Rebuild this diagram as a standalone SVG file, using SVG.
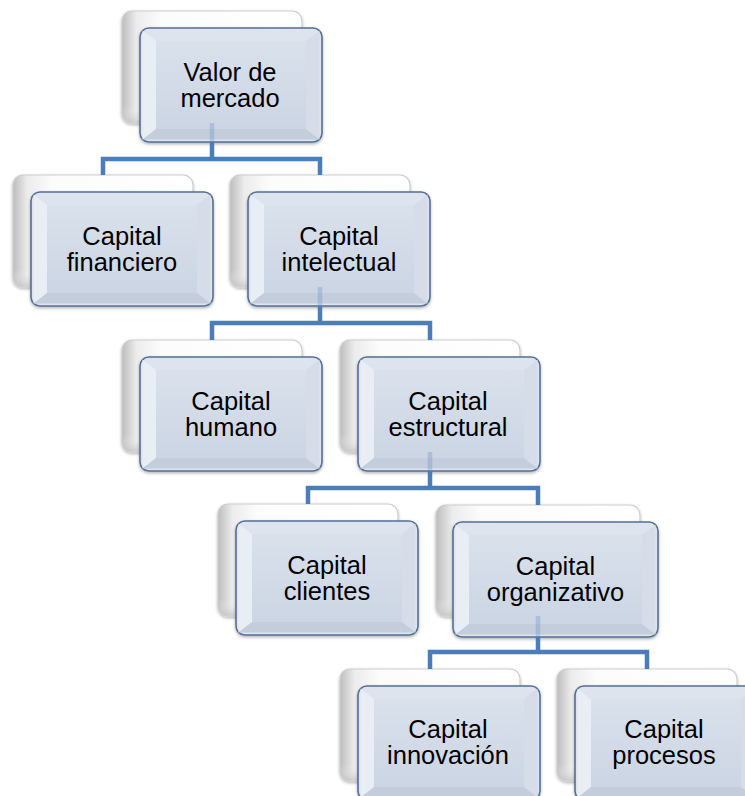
<svg xmlns="http://www.w3.org/2000/svg" xmlns:xlink="http://www.w3.org/1999/xlink" width="745" height="796" viewBox="0 0 745 796">
<style>
.back{fill:url(#gBack);stroke:#cdcdcd;stroke-width:1.2}
.backv{fill:url(#gBackV)}
.front{fill:#dde4ee;stroke:#566f96;stroke-width:1.6}
.bl{fill:#e9eef5}
.br{fill:#d6dde9}
.bb{fill:#c3cddc}
.face{fill:url(#gFace)}
.lbl{font-family:"Liberation Sans",Arial,sans-serif;font-size:25.5px;fill:#000000;text-anchor:middle}
.conn{fill:none;stroke:#4a7dba;stroke-width:4.5;stroke-linejoin:miter}
.faint{fill:none;stroke:#4a7dba;stroke-width:4.5;opacity:0.25}
</style>
<defs>
<linearGradient id="gBack" x1="0" y1="0" x2="1" y2="0">
<stop offset="0" stop-color="#bdbdbd"/>
<stop offset="0.08" stop-color="#ececec"/>
<stop offset="0.22" stop-color="#fcfcfc"/>
<stop offset="1" stop-color="#ffffff"/>
</linearGradient>
<linearGradient id="gBackV" x1="0" y1="0" x2="0" y2="1">
<stop offset="0" stop-color="#ffffff" stop-opacity="0"/>
<stop offset="0.85" stop-color="#ffffff" stop-opacity="0"/>
<stop offset="1" stop-color="#bdbdbd" stop-opacity="0.6"/>
</linearGradient>
<linearGradient id="gFace" x1="0" y1="0" x2="0" y2="1">
<stop offset="0" stop-color="#d9e1ec"/>
<stop offset="1" stop-color="#ccd5e3"/>
</linearGradient>
<filter id="sh" x="-10%" y="-10%" width="120%" height="125%">
<feDropShadow dx="0" dy="1.5" stdDeviation="1.5" flood-color="#000" flood-opacity="0.3"/>
</filter>
<g id="box">
<rect class="back" x="0" y="0" width="180" height="112" rx="10" filter="url(#sh)"/>
<rect class="backv" x="0.6" y="0.6" width="178.8" height="110.8" rx="10"/>
<rect class="front" x="18" y="17" width="182" height="114" rx="9" filter="url(#sh)"/>
<polygon class="bl" points="20.5,19.5 34,30 34,118 20.5,128.5"/>
<polygon class="br" points="197.5,19.5 184,30 184,118 197.5,128.5"/>
<polygon class="bb" points="20.5,128.5 34,118 184,118 197.5,128.5"/>
<rect class="face" x="34" y="30" width="150" height="88"/>
</g>
<g id="boxW">
<rect class="back" x="0" y="0" width="204" height="111" rx="10" filter="url(#sh)"/>
<rect class="backv" x="0.6" y="0.6" width="202.8" height="109.8" rx="10"/>
<rect class="front" x="17" y="17" width="205" height="115" rx="9" filter="url(#sh)"/>
<polygon class="bl" points="19.5,19.5 33,30 33,119 19.5,129.5"/>
<polygon class="br" points="219.5,19.5 206,30 206,119 219.5,129.5"/>
<polygon class="bb" points="19.5,129.5 33,119 206,119 219.5,129.5"/>
<rect class="face" x="33" y="30" width="173" height="89"/>
</g>
</defs>
<rect x="0" y="0" width="745" height="796" fill="#ffffff"/>
<g id="n1" transform="translate(122,11)">
<use xlink:href="#box"/>
<text class="lbl" x="108" y="70">Valor de</text>
<text class="lbl" x="108" y="96">mercado</text>
</g>
<g id="n2" transform="translate(13,175)">
<use xlink:href="#box"/>
<text class="lbl" x="109" y="70">Capital</text>
<text class="lbl" x="109" y="96">financiero</text>
</g>
<g id="n3" transform="translate(230,175)">
<use xlink:href="#box"/>
<text class="lbl" x="109" y="70">Capital</text>
<text class="lbl" x="109" y="96">intelectual</text>
</g>
<g id="n4" transform="translate(122,340)">
<use xlink:href="#box"/>
<text class="lbl" x="109" y="70">Capital</text>
<text class="lbl" x="109" y="96">humano</text>
</g>
<g id="n5" transform="translate(340,340)">
<use xlink:href="#box"/>
<text class="lbl" x="108" y="70">Capital</text>
<text class="lbl" x="108" y="96">estructural</text>
</g>
<g id="n6" transform="translate(218,504)">
<use xlink:href="#box"/>
<text class="lbl" x="109" y="70">Capital</text>
<text class="lbl" x="109" y="96">clientes</text>
</g>
<g id="n7" transform="translate(436,505)">
<use xlink:href="#boxW"/>
<text class="lbl" x="119.5" y="70">Capital</text>
<text class="lbl" x="119.5" y="96">organizativo</text>
</g>
<g id="n8" transform="translate(340,669)">
<use xlink:href="#box"/>
<text class="lbl" x="108" y="69">Capital</text>
<text class="lbl" x="108" y="95">innovación</text>
</g>
<g id="n9" transform="translate(557,669)">
<use xlink:href="#box"/>
<text class="lbl" x="107" y="69">Capital</text>
<text class="lbl" x="107" y="95">procesos</text>
</g>
<g id="connectors">
<path class="faint" d="M212 123 V142"/>
<path class="conn" d="M212 142 V159 M103 175 V159 H320 V175"/>
<path class="faint" d="M320 287 V306"/>
<path class="conn" d="M320 306 V323 M212 340 V323 H430 V340"/>
<path class="faint" d="M430 452 V471"/>
<path class="conn" d="M430 471 V488 M308 504 V488 H538 V505"/>
<path class="faint" d="M538 616 V637"/>
<path class="conn" d="M538 637 V652 M430 669 V652 H647 V669"/>
</g>
</svg>
